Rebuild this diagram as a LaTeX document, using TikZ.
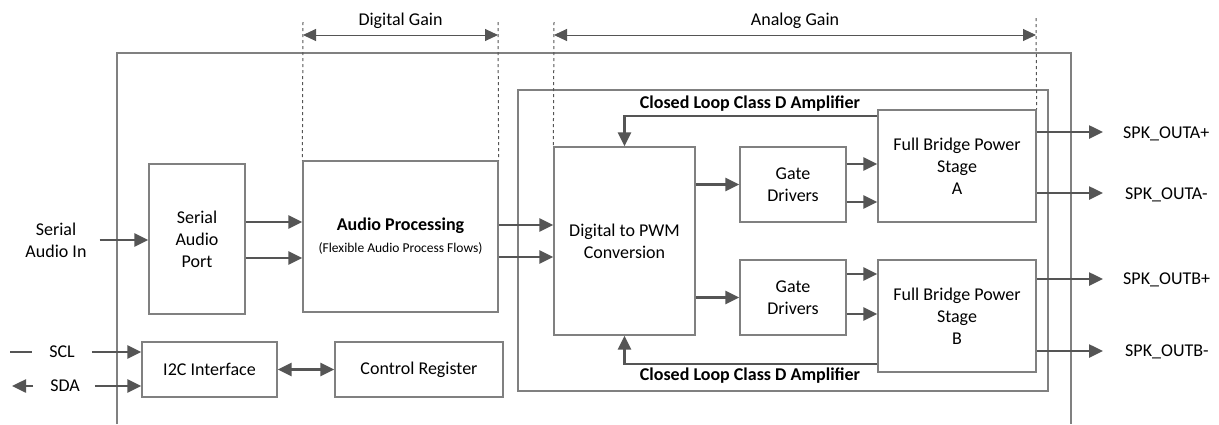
\documentclass[tikz,border=0pt]{standalone}
\usepackage{fontspec}
\setmainfont{Carlito}
\usetikzlibrary{arrows.meta}
\definecolor{boxgray}{HTML}{808080}
\definecolor{arrgray}{HTML}{555555}

\begin{document}
\begin{tikzpicture}
[x=1pt,y=-1pt,%
  every node/.style={font=\fontsize{18}{22}\selectfont,align=center},%
  block/.style={draw=boxgray,line width=1.3pt,inner sep=0pt},%
  pin/.style={inner sep=0pt},%
  sig/.style={draw=arrgray,line width=2.5pt,-{Triangle[length=14pt,width=13pt]}},%
  sigboth/.style={sig,{Triangle[length=14pt,width=13pt]}-{Triangle[length=14pt,width=13pt]}},%
  gain/.style={draw=arrgray,line width=1pt,{Triangle[length=13pt,width=12pt]}-{Triangle[length=13pt,width=12pt]}},%
  gainedge/.style={draw=arrgray,line width=1pt,dashed}]
\useasboundingbox (0,0) rectangle (1219,424);
% outer device frame (open at the bottom)
\draw[boxgray,line width=1.3pt] (117,424) -- (117,53) -- (1071,53) -- (1071,424);
% closed loop amplifier frame
\node[block,minimum width=530pt,minimum height=301pt] (amp) at (783,240.5) {};
% blocks
\node[block,minimum width=96pt,minimum height=150pt] (sap) at (197,239) {Serial\\Audio\\Port};
\node[block,minimum width=195pt,minimum height=151pt] (ap) at (400.5,236.5)
  {\textbf{Audio Processing}\\[0pt]{\fontsize{13.5}{15}\selectfont(Flexible Audio Process Flows)}};
\node[block,minimum width=135pt,minimum height=55pt] (i2c) at (209.5,369.5) {I2C Interface};
\node[block,minimum width=168pt,minimum height=55pt] (creg) at (419,369.5) {Control Register};
\node[block,minimum width=141pt,minimum height=188pt] (dpwm) at (624.5,241) {Digital to PWM\\Conversion};
\node[block,minimum width=106pt,minimum height=75pt] (gda) at (793,184.5) {Gate\\Drivers};
\node[block,minimum width=106pt,minimum height=75pt] (gdb) at (793,297.5) {Gate\\Drivers};
\node[block,minimum width=158pt,minimum height=112pt] (fba) at (957,166) {Full Bridge Power\\Stage\\A};
\node[block,minimum width=158pt,minimum height=112pt] (fbb) at (957,316) {Full Bridge Power\\Stage\\B};
% loop titles
\node[pin] (looptop) at (750,104) {\textbf{Closed Loop Class D Amplifier}};
\node[pin] (loopbot) at (750,376) {\textbf{Closed Loop Class D Amplifier}};
% pins
\node[pin] (sain) at (56,240) {Serial\\Audio In};
\node[pin] (scl) at (62,352) {SCL};
\node[pin] (sda) at (65,386) {SDA};
\coordinate (scl0) at (10,352);
\coordinate (sda0) at (12,386);
\node[pin,anchor=west] (outap) at (1123,134) {SPK\_OUTA+};
\node[pin,anchor=west] (outam) at (1125,195) {SPK\_OUTA-};
\node[pin,anchor=west] (outbp) at (1123,280) {SPK\_OUTB+};
\node[pin,anchor=west] (outbm) at (1125,352) {SPK\_OUTB-};
% gain ranges
\coordinate (dgl) at (303,22);
\coordinate (dgr) at (498,22);
\coordinate (agl) at (554,22);
\coordinate (agr) at (1036,18);
\draw[gainedge] (dgl) -- (ap.north west);
\draw[gainedge] (dgr) -- (ap.north east);
\draw[gainedge] (agl) -- (dpwm.north west);
\draw[gainedge] (agr) -- (fba.north east);
\draw[gain] (dgl |- 0,35) -- (dgr |- 0,35) node[midway,above=3pt] (dglbl) {Digital Gain};
\draw[gain] (agl |- 0,35) -- (agr |- 0,35) node[midway,above=3pt] (aglbl) {Analog Gain};
% signal path
\draw[sig,shorten <=13pt] (sain) -- (sap.west |- sain);
\draw[sig] (sap.east |- 0,222) -- (ap.west |- 0,222);
\draw[sig] (sap.east |- 0,258) -- (ap.west |- 0,258);
\draw[sig] (ap.east |- 0,225) -- (dpwm.west |- 0,225);
\draw[sig] (ap.east |- 0,257) -- (dpwm.west |- 0,257);
\draw[sig] (dpwm.east |- gda) -- (gda.west);
\draw[sig] (dpwm.east |- gdb) -- (gdb.west);
\draw[sig] (gda.east |- 0,164) -- (fba.west |- 0,164);
\draw[sig] (gda.east |- 0,202) -- (fba.west |- 0,202);
\draw[sig] (gdb.east |- 0,274) -- (fbb.west |- 0,274);
\draw[sig] (gdb.east |- 0,314) -- (fbb.west |- 0,314);
\draw[sig,shorten >=20pt] (fba.east |- 0,132) -- (outap.west |- 0,132);
\draw[sig,shorten >=22pt] (fba.east |- 0,193) -- (outam.west |- 0,193);
\draw[sig,shorten >=20pt] (fbb.east |- 0,279) -- (outbp.west |- 0,279);
\draw[sig,shorten >=22pt] (fbb.east |- 0,351) -- (outbm.west |- 0,351);
% feedback
\draw[sig] (fba.west |- 0,116) -| (dpwm.north);
\draw[sig] (fbb.west |- 0,364) -| (dpwm.south);
% control
\draw[draw=arrgray,line width=2.5pt,shorten >=17pt] (scl0) -- (scl);
\draw[sig,shorten <=17pt] (scl) -- (i2c.west |- scl);
\draw[sig,shorten <=17pt] (sda) -- (sda0);
\draw[sig,shorten <=15pt] (sda) -- (i2c.west |- sda);
\draw[sigboth] (i2c) -- (creg);
\end{tikzpicture}
\end{document}
